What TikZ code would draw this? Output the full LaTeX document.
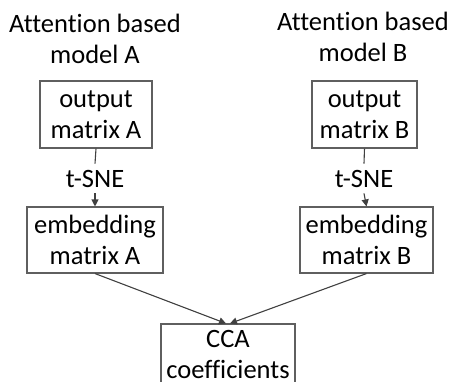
\documentclass[tikz,border=0pt]{standalone}
\usepackage{fontspec}
\setmainfont[Ligatures=NoCommon]{Carlito}
\usetikzlibrary{arrows.meta}
\definecolor{boxline}{RGB}{95,95,95}
\definecolor{arrowc}{RGB}{64,64,64}
\tikzset{
  txt/.style={font=\fontsize{26.5}{31}\selectfont, text=black, align=center},
  box/.style={txt, draw=boxline, line width=1.1pt, inner sep=0pt},
  lbl/.style={txt, inner xsep=2pt, inner ysep=6pt},
  conn/.style={draw=arrowc, line width=1.1pt},
  arr/.style={conn, -{Triangle[length=7pt,width=7pt]}, color=arrowc},
}
\begin{document}
\begin{tikzpicture}[x=1pt,y=1pt]
\useasboundingbox (0,0) rectangle (453,-381);
\clip (0,0) rectangle (453,-381);
% titles
\node[txt, anchor=north, inner sep=0pt] (tA) at (95,-14) {Attention based\\model A};
\node[txt, anchor=north, inner sep=0pt] (tB) at (363,-12) {Attention based\\model B};
% output boxes
\node[box, minimum width=112, minimum height=67] (oA) at (96,-114.5) {output\\matrix A};
\node[box, minimum width=105, minimum height=67] (oB) at (364.5,-114.5) {output\\matrix B};
% t-SNE labels
\node[lbl] (sA) at (95,-178.5) {t-SNE};
\node[lbl] (sB) at (364,-178.5) {t-SNE};
% embedding boxes
\node[box, minimum width=136, minimum height=66] (eA) at (95,-240) {embedding\\matrix A};
\node[box, minimum width=133, minimum height=66] (eB) at (366.5,-240) {embedding\\matrix B};
% CCA box
\node[box, minimum width=134, minimum height=60] (cca) at (228,-354) {CCA\\coefficients};
% connectors
\draw[conn] (oA.south) -- (sA.north);
\draw[conn] (oB.south) -- (sB.north);
\draw[arr] (sA.south) -- (eA.north);
\draw[arr] (sB.south) -- (eB.north);
\draw[arr] (eA.south) -- ([xshift=-2pt]cca.north);
\draw[arr] (eB.south) -- ([xshift=2pt]cca.north);
\end{tikzpicture}
\end{document}
